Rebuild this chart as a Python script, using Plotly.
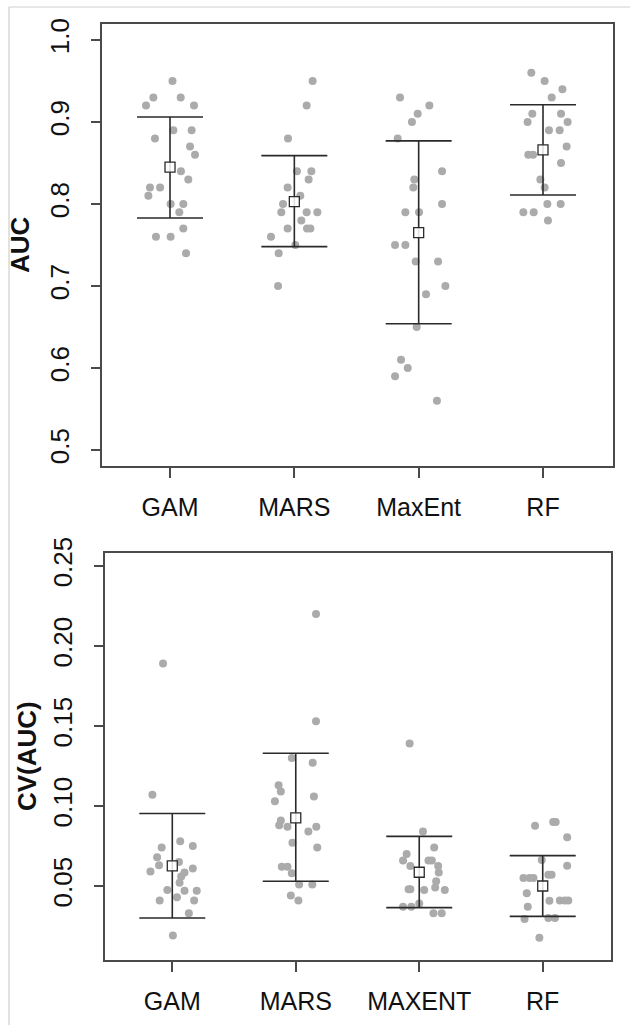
import plotly.graph_objects as go

# ---------------- data ----------------
categories_top = ["GAM", "MARS", "MaxEnt", "RF"]
categories_bottom = ["GAM", "MARS", "MAXENT", "RF"]

auc_gam = [0.95, 0.93, 0.93, 0.92, 0.92, 0.89, 0.89, 0.88, 0.87, 0.86, 0.84,
           0.83, 0.82, 0.82, 0.81, 0.80, 0.80, 0.79, 0.77, 0.76, 0.76, 0.74]
jit_auc_gam = [0.02, -0.134, 0.086, -0.193, 0.193, 0.027, 0.174, -0.121, 0.161, 0.201, 0.088,
               0.147, -0.161, -0.08, -0.174, 0.005, 0.107, 0.075, 0.107, -0.113, 0.005, 0.129]

auc_mars = [0.95, 0.92, 0.88, 0.84, 0.84, 0.83, 0.82, 0.81, 0.80, 0.79,
            0.79, 0.79, 0.78, 0.77, 0.77, 0.77, 0.76, 0.75, 0.74, 0.70]
jit_auc_mars = [0.147, 0.099, -0.051, 0.021, 0.137, 0.115, -0.054, 0.048, -0.091, -0.105,
                0.099, 0.185, 0.056, -0.054, 0.102, 0.129, -0.188, 0.008, -0.126, -0.131]

auc_maxent = [0.93, 0.92, 0.91, 0.90, 0.88, 0.84, 0.83, 0.82, 0.80, 0.79, 0.79,
              0.75, 0.75, 0.73, 0.73, 0.70, 0.69, 0.65, 0.61, 0.60, 0.59, 0.56]
jit_auc_maxent = [-0.150, 0.086, -0.008, -0.054, -0.169, 0.188, -0.035, -0.043, 0.188, -0.107, 0.003,
                  -0.19, -0.107, -0.024, 0.156, 0.215, 0.059, -0.016, -0.142, -0.088, -0.19, 0.147]

auc_rf = [0.96, 0.95, 0.94, 0.93, 0.91, 0.91, 0.90, 0.90, 0.89, 0.89, 0.87,
          0.86, 0.86, 0.85, 0.83, 0.82, 0.80, 0.80, 0.79, 0.79, 0.78]
jit_auc_rf = [-0.094, 0.013, 0.156, 0.070, -0.086, 0.145, -0.124, 0.198, 0.048, 0.134, 0.19,
              -0.118, -0.08, 0.145, -0.021, 0.013, 0.035, 0.142, -0.158, -0.075, 0.04]

cv_gam = [0.189, 0.107, 0.078, 0.074, 0.075, 0.068, 0.063, 0.065, 0.059, 0.061, 0.0585,
          0.056, 0.052, 0.0475, 0.047, 0.047, 0.043, 0.041, 0.041, 0.033, 0.019]
jit_cv_gam = [-0.075, -0.161, 0.064, -0.086, 0.166, -0.123, -0.107, 0.054, -0.177, 0.166, 0.099,
              0.072, 0.059, -0.04, 0.099, 0.198, 0.038, -0.102, 0.177, 0.134, 0.005]

cv_mars = [0.22, 0.153, 0.130, 0.127, 0.113, 0.109, 0.103, 0.106, 0.091, 0.088, 0.087,
           0.087, 0.084, 0.077, 0.074, 0.062, 0.062, 0.058, 0.051, 0.051, 0.044, 0.041]
jit_cv_mars = [0.164, 0.164, -0.032, 0.137, -0.139, -0.121, -0.169, 0.147, -0.121, -0.134, -0.067,
               0.166, 0.102, -0.027, 0.174, -0.113, -0.067, -0.032, 0.027, 0.134, -0.04, 0.021]

cv_maxent = [0.139, 0.084, 0.074, 0.070, 0.066, 0.066, 0.066, 0.0625, 0.0625, 0.0585, 0.053,
             0.048, 0.048, 0.0475, 0.049, 0.0475, 0.037, 0.037, 0.039, 0.033, 0.033]
jit_cv_maxent = [-0.078, 0.03, 0.121, -0.102, -0.131, 0.075, 0.102, 0.153, -0.072, 0.158, 0.137,
                 -0.072, -0.086, 0.04, 0.129, 0.207, -0.131, -0.064, 0.0, 0.115, 0.182]

cv_rf = [0.090, 0.090, 0.0877, 0.0805, 0.0663, 0.0627, 0.055, 0.055, 0.055, 0.057, 0.057,
         0.0454, 0.0408, 0.041, 0.041, 0.041, 0.037, 0.0294, 0.030, 0.030, 0.0177]
jit_cv_rf = [0.085, 0.105, -0.062, 0.198, -0.008, 0.198, -0.156, -0.107, -0.075, 0.046, 0.072,
             -0.129, 0.054, 0.139, 0.18, 0.207, -0.121, -0.147, 0.046, 0.099, -0.027]

auc_mean = [0.845, 0.803, 0.765, 0.866]
auc_lo = [0.783, 0.748, 0.654, 0.811]
auc_hi = [0.906, 0.859, 0.877, 0.921]

cv_mean = [0.0626, 0.0926, 0.0586, 0.050]
cv_lo = [0.030, 0.053, 0.0365, 0.031]
cv_hi = [0.0953, 0.133, 0.081, 0.069]

# ---------------- figure ----------------
W, H = 630, 1025
FONT = "Liberation Sans, Arial, sans-serif"
PT_COLOR = "#ababab"
LINE_COLOR = "#2a2a2a"
AX_COLOR = "#4a4a4a"

fig = go.Figure()

top_groups = [(auc_gam, jit_auc_gam), (auc_mars, jit_auc_mars),
              (auc_maxent, jit_auc_maxent), (auc_rf, jit_auc_rf)]
bot_groups = [(cv_gam, jit_cv_gam), (cv_mars, jit_cv_mars),
              (cv_maxent, jit_cv_maxent), (cv_rf, jit_cv_rf)]

def add_panel(groups, means, lo, hi, xa, ya):
    for i, (vals, jit) in enumerate(groups):
        fig.add_trace(go.Scatter(
            x=[i + 1 + j for j in jit], y=vals, mode="markers",
            marker=dict(symbol="circle", size=8, color=PT_COLOR, line=dict(width=0)),
            xaxis=xa, yaxis=ya, showlegend=False, hoverinfo="y"))
    xs = [1, 2, 3, 4]
    fig.add_trace(go.Scatter(
        x=xs, y=means, mode="markers",
        marker=dict(symbol="square", size=10, color="rgba(255,255,255,0.85)",
                    line=dict(color=LINE_COLOR, width=1.3)),
        error_y=dict(type="data", symmetric=False,
                     array=[h - m for h, m in zip(hi, means)],
                     arrayminus=[m - l for m, l in zip(means, lo)],
                     color=LINE_COLOR, thickness=1.6, width=33),
        xaxis=xa, yaxis=ya, showlegend=False, hoverinfo="y"))

add_panel(top_groups, auc_mean, auc_lo, auc_hi, "x", "y")
add_panel(bot_groups, cv_mean, cv_lo, cv_hi, "x2", "y2")

def px_x(v):
    return v / W

def px_y(v):
    return 1 - v / H

axis_common = dict(showline=True, mirror=True, linecolor=AX_COLOR, linewidth=1.8,
                   ticks="outside", tickcolor=AX_COLOR, tickwidth=1.5,
                   showgrid=False, zeroline=False, automargin=False)
xfont = dict(family=FONT, size=25, color="#111111")
yfont = dict(family=FONT, size=26, color="#111111")

fig.update_layout(
    width=W, height=H,
    margin=dict(l=0, r=0, t=0, b=0),
    paper_bgcolor="white", plot_bgcolor="white",
    showlegend=False,
    xaxis=dict(domain=[px_x(102), px_x(613)], range=[0.453, 4.563], anchor="y",
               tickvals=[1, 2, 3, 4], ticktext=categories_top, ticklen=10,
               ticklabelstandoff=8, tickfont=xfont, **axis_common),
    yaxis=dict(domain=[px_y(466), px_y(24)], range=[0.4805, 1.0195], anchor="x",
               tickvals=[0.5, 0.6, 0.7, 0.8, 0.9, 1.0],
               ticktext=["0.5", "0.6", "0.7", "0.8", "0.9", "1.0"],
               tickangle=-90, ticklen=9, ticklabelstandoff=12, tickfont=yfont, **axis_common),
    xaxis2=dict(domain=[px_x(105), px_x(611)], range=[0.455, 4.553], anchor="y2",
                tickvals=[1, 2, 3, 4], ticktext=categories_bottom, ticklen=10,
                ticklabelstandoff=8, tickfont=xfont, **axis_common),
    yaxis2=dict(domain=[px_y(960), px_y(553)], range=[0.00375, 0.2581], anchor="x2",
                tickvals=[0.05, 0.10, 0.15, 0.20, 0.25],
                ticktext=["0.05", "0.10", "0.15", "0.20", "0.25"],
                tickangle=-90, ticklen=9, ticklabelstandoff=12, tickfont=yfont, **axis_common),
)

fig.add_annotation(text="<b>AUC</b>", x=px_x(20), y=px_y(245), xref="paper", yref="paper",
                   textangle=-90, showarrow=False, xanchor="center", yanchor="middle",
                   font=dict(family=FONT, size=26, color="#111111"))
fig.add_annotation(text="<b>CV(AUC)</b>", x=px_x(27), y=px_y(756), xref="paper", yref="paper",
                   textangle=-90, showarrow=False, xanchor="center", yanchor="middle",
                   font=dict(family=FONT, size=26, color="#111111"))

# thin outer frame of the original figure
fig.add_shape(type="line", xref="paper", yref="paper", x0=px_x(9), x1=px_x(9),
              y0=0, y1=px_y(7), line=dict(color="#cfcfcf", width=1.2))
fig.add_shape(type="line", xref="paper", yref="paper", x0=px_x(9), x1=1,
              y0=px_y(7), y1=px_y(7), line=dict(color="#cfcfcf", width=1.2))

fig.write_html("out.html")
